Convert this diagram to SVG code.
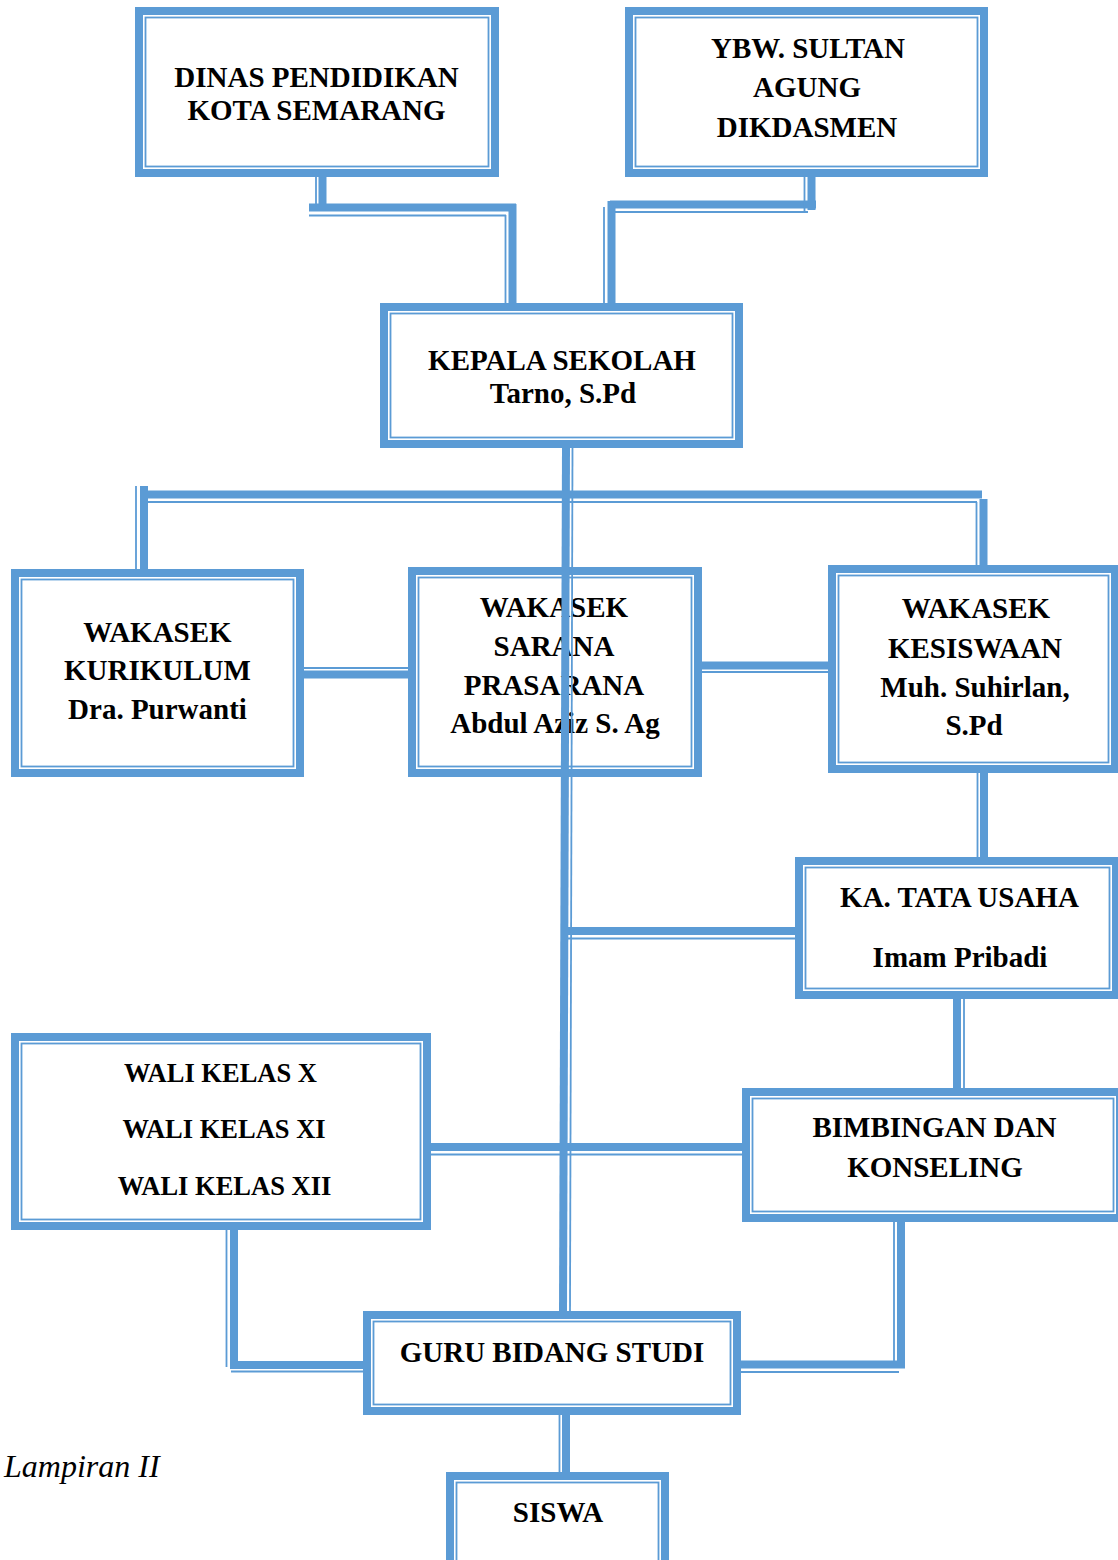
<svg xmlns="http://www.w3.org/2000/svg" width="1118" height="1560" viewBox="0 0 1118 1560">
<style>
.o{fill:#fff;stroke:#5B9BD5;stroke-width:8}
.i{fill:none;stroke:#5B9BD5;stroke-width:1.8}
.k{stroke:#5B9BD5;stroke-width:8;fill:none}
.n{stroke:#5B9BD5;stroke-width:1.8;fill:none}
.t{font-family:"Liberation Serif","Times New Roman",serif;font-weight:bold;font-size:29px;fill:#000;text-anchor:middle}
.w{font-size:26.5px}
</style>
<rect width="1118" height="1560" fill="#fff"/>
<g id="dinas">
<rect class="o" x="139" y="11" width="356" height="162"/>
<rect class="i" x="145.5" y="17.5" width="343" height="149"/>
<text class="t" x="316.5" y="87">DINAS PENDIDIKAN</text>
<text class="t" x="316.5" y="120">KOTA SEMARANG</text>
</g>
<g id="ybw">
<rect class="o" x="629" y="11" width="355" height="162"/>
<rect class="i" x="635.5" y="17.5" width="342" height="149"/>
<text class="t" x="808" y="58">YBW. SULTAN</text>
<text class="t" x="807" y="97">AGUNG</text>
<text class="t" x="807" y="137">DIKDASMEN</text>
</g>
<g id="kepala">
<rect class="o" x="384" y="307" width="355" height="137"/>
<rect class="i" x="390.5" y="313.5" width="342" height="124"/>
<text class="t" x="562" y="370">KEPALA SEKOLAH</text>
<text class="t" x="563" y="403">Tarno, S.Pd</text>
</g>
<g id="kurikulum">
<rect class="o" x="15" y="573" width="285" height="200"/>
<rect class="i" x="21.5" y="579.5" width="272" height="187"/>
<text class="t" x="157.5" y="642">WAKASEK</text>
<text class="t" x="157.5" y="680">KURIKULUM</text>
<text class="t" x="157.5" y="719">Dra. Purwanti</text>
</g>
<g id="sarana">
<rect class="o" x="412" y="571" width="286" height="202"/>
<rect class="i" x="418.5" y="577.5" width="273" height="189"/>
<text class="t" x="554" y="617">WAKASEK</text>
<text class="t" x="554" y="656">SARANA</text>
<text class="t" x="554" y="695">PRASARANA</text>
<text class="t" x="555" y="733">Abdul Aziz S. Ag</text>
</g>
<g id="kesiswaan">
<rect class="o" x="832" y="569" width="283" height="200"/>
<rect class="i" x="838.5" y="575.5" width="270" height="187"/>
<text class="t" x="976" y="618">WAKASEK</text>
<text class="t" x="975" y="658">KESISWAAN</text>
<text class="t" x="975" y="697">Muh. Suhirlan,</text>
<text class="t" x="974" y="735">S.Pd</text>
</g>
<g id="tata-usaha">
<rect class="o" x="799" y="861" width="317" height="134"/>
<rect class="i" x="805.5" y="867.5" width="304" height="121"/>
<text class="t" x="959.5" y="907">KA. TATA USAHA</text>
<text class="t" x="960" y="967">Imam Pribadi</text>
</g>
<g id="bimbingan">
<rect class="o" x="746" y="1092" width="374" height="126"/>
<rect class="i" x="752.5" y="1098.5" width="361" height="113"/>
<text class="t" x="934.5" y="1137">BIMBINGAN DAN</text>
<text class="t" x="935" y="1177">KONSELING</text>
</g>
<g id="wali-kelas">
<rect class="o" x="15" y="1037" width="412" height="189"/>
<rect class="i" x="21.5" y="1043.5" width="399" height="176"/>
<text class="t w" x="220.5" y="1082">WALI KELAS X</text>
<text class="t w" x="224" y="1138">WALI KELAS XI</text>
<text class="t w" x="224.5" y="1195">WALI KELAS XII</text>
</g>
<g id="guru">
<rect class="o" x="367" y="1315" width="370" height="96"/>
<rect class="i" x="373.5" y="1321.5" width="357" height="83"/>
<text class="t" x="552" y="1362">GURU BIDANG STUDI</text>
</g>
<g id="siswa">
<rect class="o" x="450" y="1476" width="215" height="110"/>
<rect class="i" x="456.5" y="1482.5" width="202" height="97"/>
<text class="t" x="558" y="1522">SISWA</text>
</g>
<text x="4" y="1477" font-family="'Liberation Serif','Times New Roman',serif" font-style="italic" font-size="32" fill="#000">Lampiran II</text>
<g id="connectors">
<!-- DINAS to KEPALA -->
<path class="k" d="M322.5,177V211M309,207.5H516M512.5,204V303"/>
<path class="n" d="M316,177V207M309,215.5H506M505.5,215V303"/>
<!-- YBW to KEPALA -->
<path class="k" d="M811.5,177V210M610,204.5H816M611.5,201V303"/>
<path class="n" d="M804.5,177V213M615,212H808M604,207V303"/>
<!-- trunk -->
<line class="k" x1="566" y1="448" x2="563" y2="1311"/>
<line class="n" x1="572.5" y1="448" x2="570" y2="1311"/>
<!-- top bar -->
<path class="k" d="M140,494.5H982M144,486V569M983.5,499V565"/>
<path class="n" d="M148,502H977M136,486V569M976.5,502V565"/>
<!-- kurikulum - sarana -->
<path class="k" d="M304,674.5H408"/>
<path class="n" d="M304,668H408"/>
<!-- sarana - kesiswaan -->
<path class="k" d="M702,665.5H828"/>
<path class="n" d="M702,672H828"/>
<!-- kesiswaan - tata -->
<path class="k" d="M984,773V857"/>
<path class="n" d="M977.5,773V857"/>
<!-- trunk - tata -->
<path class="k" d="M568,931H795"/>
<path class="n" d="M568,938.5H795"/>
<!-- tata - bimbingan -->
<path class="k" d="M957,999V1088"/>
<path class="n" d="M964,999V1088"/>
<!-- wali - bimbingan -->
<path class="k" d="M431,1147H742"/>
<path class="n" d="M431,1154.5H742"/>
<!-- wali - guru -->
<path class="k" d="M234,1230V1369M230,1365H363"/>
<path class="n" d="M226.5,1230V1367M231,1371.5H363"/>
<!-- bimbingan - guru -->
<path class="k" d="M901,1222V1368M741,1364.5H905"/>
<path class="n" d="M894,1222V1362M741,1372H899"/>
<!-- guru - siswa -->
<path class="k" d="M566,1415V1472"/>
<path class="n" d="M559.5,1415V1472"/>
</g>
</svg>
